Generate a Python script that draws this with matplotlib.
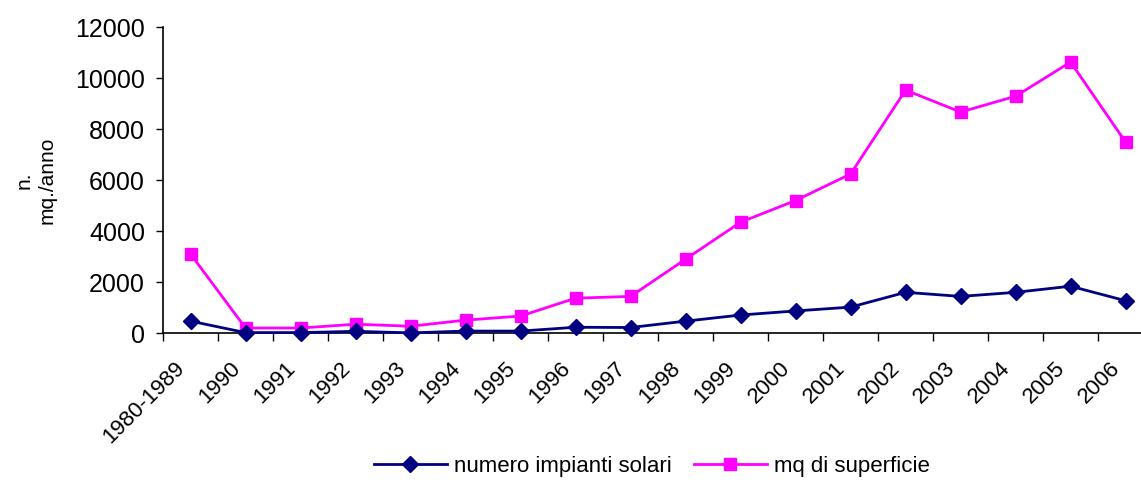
import numpy as np
import matplotlib.pyplot as plt
import matplotlib.transforms as mtransforms

plt.rcParams["font.family"] = ["Liberation Sans", "DejaVu Sans"]

anni = ["1980-1989", "1990", "1991", "1992", "1993", "1994", "1995", "1996",
        "1997", "1998", "1999", "2000", "2001", "2002", "2003", "2004",
        "2005", "2006"]
impianti = [470, 20, 20, 70, 10, 80, 80, 230, 220, 470, 710, 870, 1020,
            1600, 1440, 1600, 1840, 1270]
superficie = [3100, 200, 200, 350, 270, 510, 670, 1370, 1440, 2900, 4350,
              5200, 6240, 9530, 8670, 9290, 10630, 7490]

fig = plt.figure(figsize=(11.41, 4.8), dpi=100)
# the category axis runs a little past the right edge of the figure
ax = fig.add_axes([0.1429, 0.306, 0.8677, 0.6375])

x = np.arange(len(anni))
ax.plot(x, impianti, color="#000080", marker="D", markersize=8, linewidth=2,
        label="numero impianti solari", zorder=3, clip_on=False)
ax.plot(x, superficie, color="#FF00FF", marker="s", markersize=9, linewidth=2,
        label="mq di superficie", zorder=2, clip_on=False)

ax.set_xlim(-0.5, len(anni) - 0.5)
ax.set_ylim(0, 12000)
ax.set_yticks(np.arange(0, 12001, 2000))
ax.tick_params(axis="y", labelsize=18, direction="out", length=5, width=1,
               pad=8)

# tick marks between categories, labels centred on the points
ax.set_xticks(np.arange(-0.5, len(anni), 1.0))
ax.set_xticklabels([])
ax.tick_params(axis="x", which="major", direction="out", length=6, width=1)
ax.set_xticks(x, minor=True)
ax.set_xticklabels(anni, minor=True, rotation=45, ha="right",
                   rotation_mode="anchor", fontsize=16)
ax.tick_params(axis="x", which="minor", length=0, pad=0)
shift = mtransforms.ScaledTranslation(-0.16, -0.245, fig.dpi_scale_trans)
for lab in ax.get_xticklabels(minor=True):
    lab.set_transform(lab.get_transform() + shift)

for side in ("top", "right"):
    ax.spines[side].set_visible(False)
for side in ("left", "bottom"):
    ax.spines[side].set_linewidth(1.2)

fig.text(0.031, 0.625, "n.\nmq./anno", rotation=90, ha="center",
         va="center", fontsize=15, linespacing=1.3)

fig.legend(loc="center", bbox_to_anchor=(0.571, 0.028), ncol=2,
           frameon=False, fontsize=16, handlelength=3.3, columnspacing=1.0,
           handletextpad=0.3)

fig.savefig("out.png", dpi=100)
